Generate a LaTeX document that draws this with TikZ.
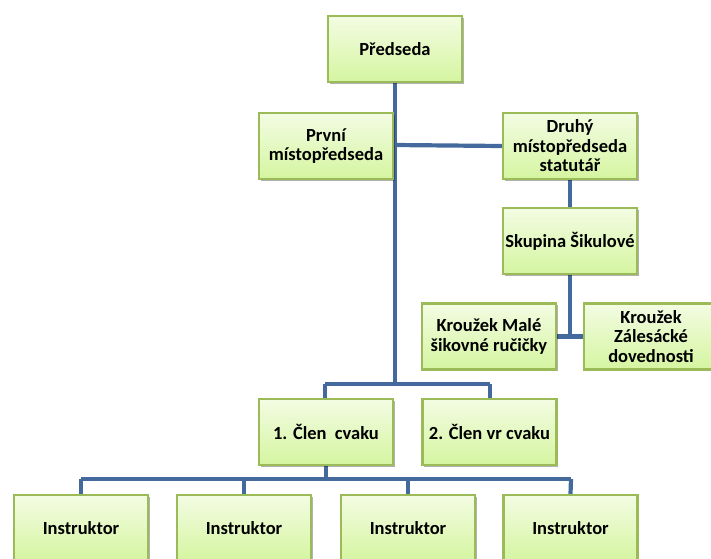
\documentclass[tikz,border=0pt]{standalone}
\usepackage{fontspec}
\setmainfont{Carlito}
\usetikzlibrary{shadows,backgrounds}
\definecolor{boxline}{HTML}{9BBB59}
\definecolor{boxtop}{HTML}{F3FCE3}
\definecolor{boxbot}{HTML}{D5F5A0}
\definecolor{conn}{HTML}{44699C}
\tikzset{
  orgbox/.style={draw=boxline, line width=2.4pt, top color=boxtop, bottom color=boxbot,
    minimum width=134pt, minimum height=66pt, inner sep=2pt, align=center,
    font=\fontsize{18.5}{19.5}\selectfont\bfseries,
    drop shadow={shadow xshift=1.6pt, shadow yshift=-1.6pt, fill=black, opacity=0.3}},
  link/.style={draw=conn, line width=4.2pt}
}
\begin{document}
\begin{tikzpicture}[x=1pt,y=-1pt]
\useasboundingbox (0,0) rectangle (711,558);
\clip (0,0) rectangle (711,558);
\coordinate (j1) at (395,384);
\coordinate (j2) at (395,145);
\coordinate (j3) at (326,479);
\coordinate (ja) at (325,384);
\coordinate (jb) at (490,384);
\coordinate (jc) at (81,479);
\coordinate (jd) at (571,479);
\node[orgbox] (pred) at (395,49) {Předseda};
\node[orgbox] (prvni) at (326,146) {První\\místopředseda};
\node[orgbox] (druhy) at (570,146) {Druhý\\místopředseda\\statutář};
\node[orgbox] (skup) at (570,241) {Skupina Šikulové};
\node[orgbox] (male) at (489,336.5) {Kroužek Malé\\šikovné ručičky};
\node[orgbox] (zal) at (651,336.5) {Kroužek\\Zálesácké\\dovednosti};
\node[orgbox] (clen1) at (326,432) {1. Člen\ \ cvaku};
\node[orgbox] (clen2) at (489.5,432) {2. Člen vr cvaku};
\node[orgbox] (ins1) at (81,528) {Instruktor};
\node[orgbox] (ins2) at (244,528) {Instruktor};
\node[orgbox] (ins3) at (408,528) {Instruktor};
\node[orgbox] (ins4) at (570.5,528) {Instruktor};
\begin{pgfonlayer}{background}
\draw[link] (pred.south) -- (j1);
\draw[link] (j2) -- (druhy.west);
\draw[link] (druhy.south) -- (skup.north);
\draw[link] (skup.south) -- (skup.south |- male.east);
\draw[link] (male.east) -- (zal.west);
\draw[link] (ja) -- (jb);
\draw[link] (ja) -- (clen1.north -| ja);
\draw[link] (jb) -- (clen2.north -| jb);
\draw[link] (clen1.south) -- (j3);
\draw[link] (jc) -- (jd);
\draw[link] (jc) -- (ins1.north);
\draw[link] (ins2.north |- jc) -- (ins2.north);
\draw[link] (ins3.north |- jc) -- (ins3.north);
\draw[link] (jd) -- (ins4.north);
\end{pgfonlayer}
\end{tikzpicture}
\end{document}
